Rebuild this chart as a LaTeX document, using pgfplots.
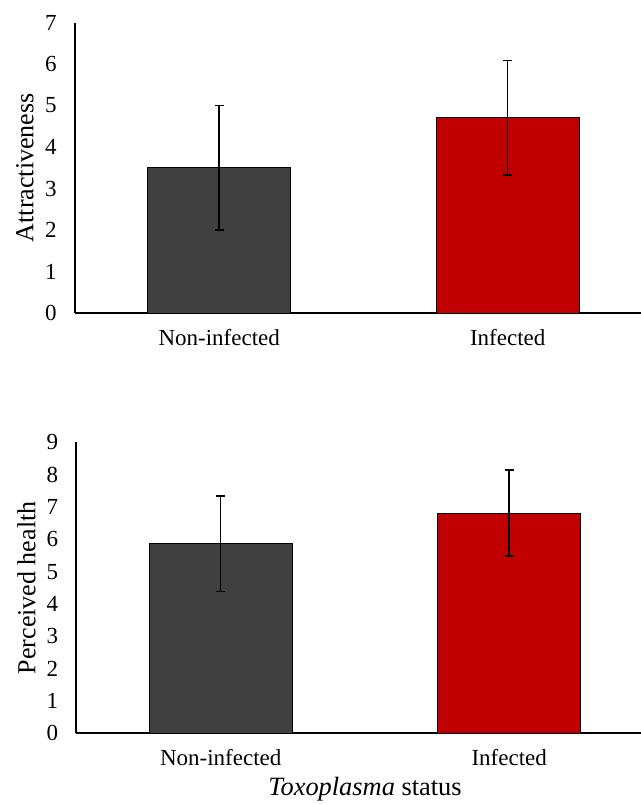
\documentclass[border=0pt]{standalone}
\usepackage{fontspec}
\setmainfont{Liberation Serif}
\usepackage{pgfplots}
\pgfplotsset{compat=1.18}
\definecolor{darkbar}{HTML}{404040}
\definecolor{redbar}{HTML}{C00000}
\pgfplotsset{
 mystyle/.style={
  scale only axis, width=288.5pt,
  xmin=-0.5, xmax=1.5, ymin=0,
  axis x line*=bottom, axis y line*=left,
  axis line style={line width=1pt, black, -},
  major tick length=0pt,
  xtick={0,1}, xticklabels={Non-infected, Infected},
  ybar, bar width=71.5pt, bar shift=0pt,
  ticklabel style={font=\fontsize{11.5}{13}\selectfont},
  label style={font=\fontsize{13}{15}\selectfont},
  yticklabel style={xshift=-5.7pt},
  xticklabel style={yshift=-4.7pt},
  ylabel style={at={(axis description cs:-0.0867,0.5)}, anchor=center},
  /pgf/number format/assume math mode=true,
  clip=false,
  error bars/y dir=both, error bars/y explicit,
  error bars/error bar style={line width=0.75pt, black},
  error bars/error mark options={rotate=90, mark size=2.25pt, line width=0.75pt, black},
 }
}
\begin{document}
\begin{tikzpicture}
\useasboundingbox (-37.5pt,-246pt) rectangle (283pt,156.5pt);
\begin{axis}[mystyle, at={(0pt,0pt)}, anchor=south west,
  height=145.25pt, ymax=7, ytick={0,1,...,7},
  ylabel={Attractiveness}]
\addplot[fill=darkbar, draw=black, line width=0.5pt] coordinates {(0,3.5) +- (0,1.5)};
\addplot[fill=redbar, draw=black, line width=0.5pt] coordinates {(1,4.71) +- (0,1.38)};
\end{axis}
\begin{axis}[mystyle, at={(0.75pt,-210.15pt)}, anchor=south west,
  height=145.5pt, ymax=9, ytick={0,1,...,9},
  ylabel={Perceived health},
  xlabel={\textit{Toxoplasma} status},
  xlabel style={at={(axis description cs:0.5,0)}, anchor=north, yshift=-20.5pt, inner sep=1pt, font=\fontsize{13.2}{15}\selectfont}]
\addplot[fill=darkbar, draw=black, line width=0.5pt] coordinates {(0,5.86) +- (0,1.48)};
\addplot[fill=redbar, draw=black, line width=0.5pt] coordinates {(1,6.81) +- (0,1.33)};
\end{axis}
\end{tikzpicture}
\end{document}
